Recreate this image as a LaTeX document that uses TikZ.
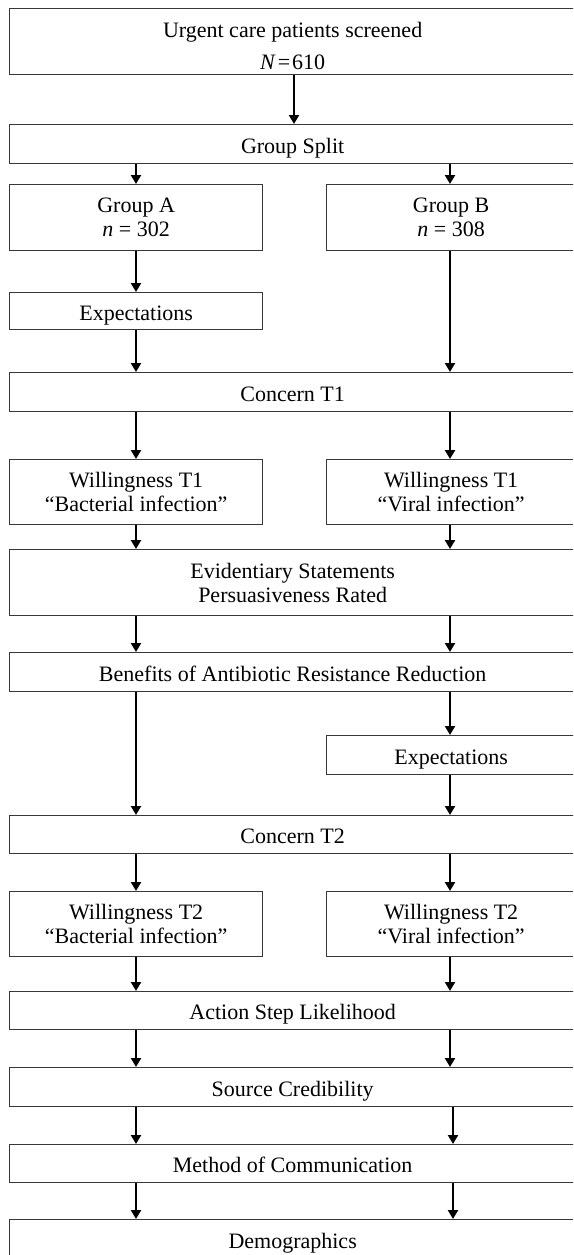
\documentclass[tikz,border=0pt]{standalone}
\usepackage{fontspec}
\setmainfont{Liberation Serif}
\usetikzlibrary{arrows.meta}
\begin{document}
\begin{tikzpicture}[x=1pt,y=-1pt,
  box/.style={draw=black!78, line width=1.3pt, rectangle, inner sep=0pt, anchor=north west,
    align=center, font=\fontsize{22}{24}\selectfont},
  wide/.style={box, minimum width=566pt},
  one/.style={text height=20pt, text depth=2pt},
  arr/.style={line width=2.6pt, -{Triangle[length=9pt,width=10pt]}}]
\useasboundingbox (0,0) rectangle (573,1255);
\clip (0,0) rectangle (573,1255);
\fill[white] (0,0) rectangle (573,1255);
% columns
\coordinate (M) at (294,0);
\coordinate (L) at (136,0);
\coordinate (R) at (450,0);
\coordinate (R2) at (453,0);
% boxes
\node[wide, minimum height=66pt] (b1) at (9,8)
  {\rule{0pt}{23pt}Urgent care patients screened\\[8pt]\textit{N}\hspace{2pt}=\hspace{2pt}610};
\node[wide, one, minimum height=39pt] (split) at (9,124) {Group Split};
\node[box, minimum width=253pt, minimum height=66pt] (gA) at (9,184) {Group A\\\textit{n} = 302};
\node[box, minimum width=249pt, minimum height=66pt] (gB) at (326,184) {Group B\\\textit{n} = 308};
\node[box, one, minimum width=253pt, minimum height=37pt] (expA) at (9,292) {Expectations};
\node[wide, one, minimum height=39pt] (c1) at (9,372) {Concern T1};
\node[box, minimum width=253pt, minimum height=65pt] (w1A) at (9,459) {Willingness T1\\“Bacterial infection”};
\node[box, minimum width=249pt, minimum height=65pt] (w1B) at (326,459) {Willingness T1\\“Viral infection”};
\node[wide, minimum height=66pt] (ev) at (9,549) {Evidentiary Statements\\Persuasiveness Rated};
\node[wide, one, minimum height=39pt] (ben) at (9,652) {Benefits of Antibiotic Resistance Reduction};
\node[box, one, minimum width=249pt, minimum height=39pt] (expB) at (326,735) {Expectations};
\node[wide, one, minimum height=38pt] (c2) at (9,815) {Concern T2};
\node[box, minimum width=253pt, minimum height=65pt] (w2A) at (9,891) {Willingness T2\\“Bacterial infection”};
\node[box, minimum width=249pt, minimum height=65pt] (w2B) at (326,891) {Willingness T2\\“Viral infection”};
\node[wide, one, minimum height=38pt] (act) at (9,991) {Action Step Likelihood};
\node[wide, one, minimum height=39pt] (src) at (9,1067) {Source Credibility};
\node[wide, one, minimum height=38pt] (meth) at (9,1144) {Method of Communication};
\node[wide, one, minimum height=39pt] (demo) at (9,1219) {Demographics};
% connectors
\draw[arr] (b1.south -| M) -- (split.north -| M);
\draw[arr] (split.south -| L) -- (gA.north -| L);
\draw[arr] (split.south -| R) -- (gB.north -| R);
\draw[arr] (gA.south -| L) -- (expA.north -| L);
\draw[arr] (expA.south -| L) -- (c1.north -| L);
\draw[arr] (gB.south -| R) -- (c1.north -| R);
\draw[arr] (c1.south -| L) -- (w1A.north -| L);
\draw[arr] (c1.south -| R) -- (w1B.north -| R);
\draw[arr] (w1A.south -| L) -- (ev.north -| L);
\draw[arr] (w1B.south -| R) -- (ev.north -| R);
\draw[arr] (ev.south -| L) -- (ben.north -| L);
\draw[arr] (ev.south -| R) -- (ben.north -| R);
\draw[arr] (ben.south -| L) -- (c2.north -| L);
\draw[arr] (ben.south -| R) -- (expB.north -| R);
\draw[arr] (expB.south -| R) -- (c2.north -| R);
\draw[arr] (c2.south -| L) -- (w2A.north -| L);
\draw[arr] (c2.south -| R) -- (w2B.north -| R);
\draw[arr] (w2A.south -| L) -- (act.north -| L);
\draw[arr] (w2B.south -| R) -- (act.north -| R);
\draw[arr] (act.south -| L) -- (src.north -| L);
\draw[arr] (act.south -| R) -- (src.north -| R);
\draw[arr] (src.south -| L) -- (meth.north -| L);
\draw[arr] (src.south -| R2) -- (meth.north -| R2);
\draw[arr] (meth.south -| L) -- (demo.north -| L);
\draw[arr] (meth.south -| R2) -- (demo.north -| R2);
\end{tikzpicture}
\end{document}
